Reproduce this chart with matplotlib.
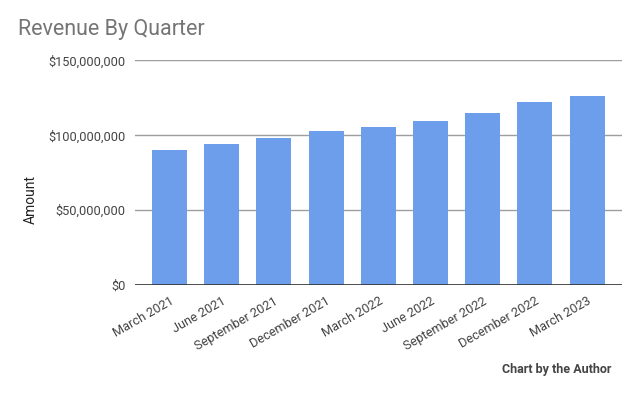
import matplotlib.pyplot as plt
from matplotlib.ticker import FuncFormatter

plt.rcParams['font.family'] = ['Roboto', 'DejaVu Sans']

# quarters and revenue
quarters = ["March 2021", "June 2021", "September 2021", "December 2021",
            "March 2022", "June 2022", "September 2022", "December 2022",
            "March 2023"]
revenue = [90.1e6, 94.4e6, 98.0e6, 103.1e6, 105.2e6, 109.4e6, 114.6e6, 122.3e6, 126.0e6]
yticks = [0, 50e6, 100e6, 150e6]

fig = plt.figure(figsize=(6.4, 3.96), dpi=100)
ax = fig.add_axes([0.211, 0.280, 0.761, 0.568])

x = range(len(quarters))
ax.bar(x, revenue, width=0.67, color="#6d9eeb", zorder=3)

ax.set_ylim(0, 150e6)
ax.set_xlim(-0.66, len(quarters) - 0.33)
ax.set_yticks(yticks)
ax.yaxis.set_major_formatter(FuncFormatter(lambda v, p: "${:,.0f}".format(v)))
ax.grid(axis="y", color="#9e9e9e", linewidth=1, zorder=0)
ax.axhline(0, color="#333333", linewidth=1.2, zorder=4)

for s in ax.spines.values():
    s.set_visible(False)
ax.tick_params(length=0, labelsize=9.2, colors="#444444", pad=7)

ax.set_xticks(list(x))
ax.set_xticklabels(quarters, rotation=30, ha="right", rotation_mode="anchor")

# axis title sits a bit below the middle, like the original
ax.set_ylabel("Amount", fontsize=10, color="#222222")
ax.yaxis.set_label_coords(-0.200, 0.382)

fig.text(0.028, 0.925, "Revenue By Quarter", fontsize=15.5, color="#757575", va="center")
fig.text(0.956, 0.068, "Chart by the Author", fontsize=9, fontweight="bold",
         color="#444444", ha="right", va="center")

fig.savefig("out.png", dpi=100)
